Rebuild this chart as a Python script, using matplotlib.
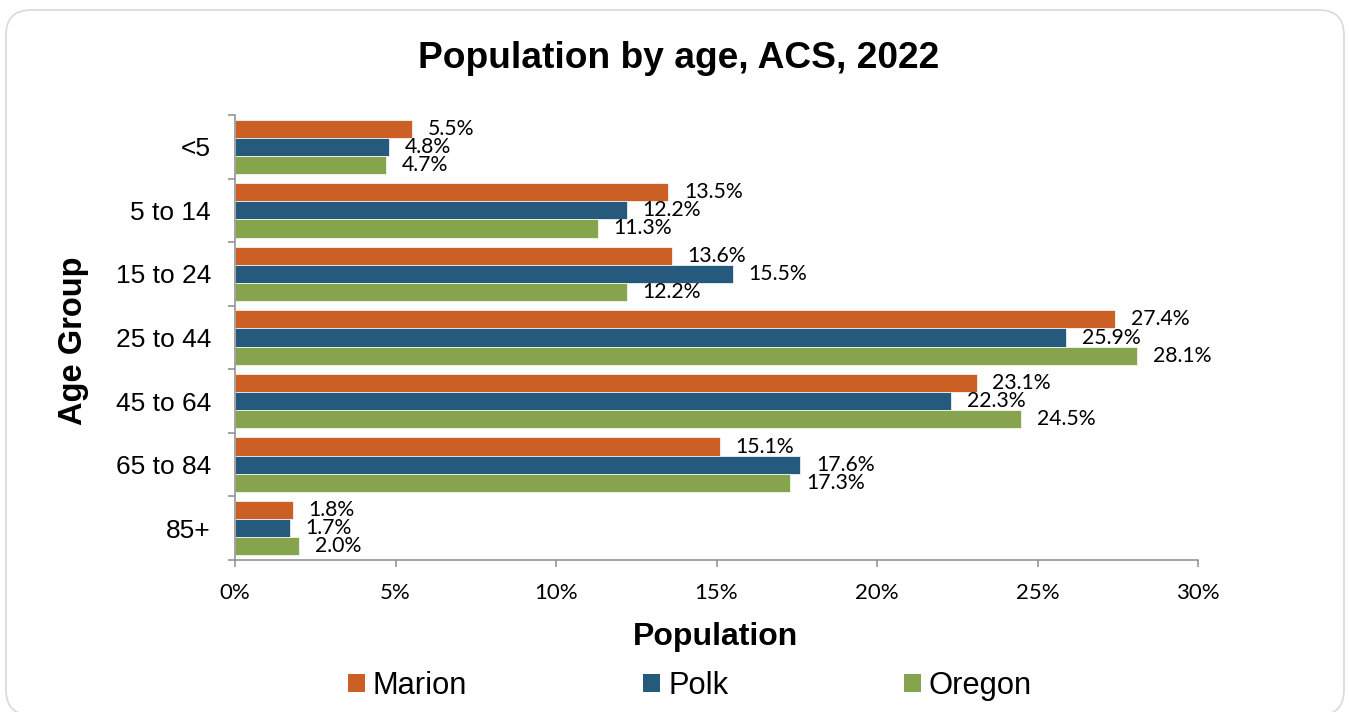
import matplotlib
matplotlib.use("Agg")
import matplotlib.pyplot as plt
import numpy as np
from matplotlib.patches import FancyBboxPatch, Patch
from matplotlib.ticker import FixedLocator, FuncFormatter

age_groups = ["<5", "5 to 14", "15 to 24", "25 to 44", "45 to 64", "65 to 84", "85+"]
series_names = ["Marion", "Polk", "Oregon"]
marion = [5.5, 13.5, 13.6, 27.4, 23.1, 15.1, 1.8]
polk = [4.8, 12.2, 15.5, 25.9, 22.3, 17.6, 1.7]
oregon = [4.7, 11.3, 12.2, 28.1, 24.5, 17.3, 2.0]
x_ticks = [0, 5, 10, 15, 20, 25, 30]

colors = ["#CC5F24", "#255A7C", "#86A34D"]
spine_col = "#8C8C8C"
ARIAL = "Liberation Sans"
NUMF = "Lato"

W, H = 1349, 712
fig = plt.figure(figsize=(W / 100, H / 100), dpi=100)
fig.patch.set_facecolor("white")

# rounded border
border = FancyBboxPatch((0.06, -0.03), 13.38, 7.05,
                        boxstyle="round,pad=0,rounding_size=0.25",
                        transform=fig.dpi_scale_trans, facecolor="none",
                        edgecolor="#D9D9D9", linewidth=1.2, zorder=0)
fig.patches.append(border)

ax = fig.add_axes([235 / W, 1 - 560 / H, (1198 - 235) / W, (560 - 115) / H])

y = np.arange(len(age_groups))
h = 0.285
all_series = [marion, polk, oregon]
for i, (vals, c, name) in enumerate(zip(all_series, colors, series_names)):
    pos = y + (i - 1) * h
    ax.barh(pos, vals, height=h, color=c, edgecolor="white",
            linewidth=0.5, label=name, zorder=2)
    for p, v in zip(pos, vals):
        ax.annotate(f"{v:.1f}%", xy=(v, p), xytext=(11.5, 0),
                    textcoords="offset points", ha="left", va="center",
                    fontsize=15.3, family=NUMF, color="black", zorder=3)

ax.set_xlim(0, 30)
ax.set_ylim(len(age_groups) - 0.5, -0.5)
ax.set_xticks(x_ticks)
ax.xaxis.set_major_formatter(FuncFormatter(lambda v, p: f"{v:.0f}%"))
ax.tick_params(axis="x", direction="out", length=5, width=1.1,
               color=spine_col, pad=11.5, labelsize=16)
for lab in ax.get_xticklabels():
    lab.set_family(NUMF)
    lab.set_fontsize(16)

ax.set_yticks(y)
ax.set_yticklabels(age_groups, family=ARIAL, fontsize=19)
ax.tick_params(axis="y", which="major", length=0, pad=17.3)
ax.yaxis.set_minor_locator(FixedLocator(np.arange(-0.5, len(age_groups), 1.0)))
ax.tick_params(axis="y", which="minor", direction="out", length=5,
               width=1.1, color=spine_col)

for s in ["top", "right"]:
    ax.spines[s].set_visible(False)
for s in ["left", "bottom"]:
    ax.spines[s].set_color(spine_col)
    ax.spines[s].set_linewidth(1.1)

fig.text(678.5 / W, 1 - 68 / H, "Population by age, ACS, 2022",
         ha="center", va="baseline", fontsize=26.7, fontweight="bold",
         family=ARIAL)
fig.text(715.5 / W, 1 - 645 / H, "Population", ha="center", va="baseline",
         fontsize=23, fontweight="bold", family=ARIAL)
fig.text(82 / W, 1 - 341 / H, "Age Group", ha="center", va="baseline",
         rotation=90, rotation_mode="anchor", fontsize=23.5,
         fontweight="bold", family=ARIAL)

handles = [Patch(facecolor=c, edgecolor="none") for c in colors]
fig.legend(handles, series_names, loc="center",
           bbox_to_anchor=(690 / W, 1 - 686 / H), ncol=3, frameon=False,
           prop={"family": ARIAL, "size": 22.2},
           handlelength=0.55, handleheight=0.55, handletextpad=0.26,
           columnspacing=5.7, borderpad=0.1)

fig.savefig("out.png", dpi=100, facecolor="white")
